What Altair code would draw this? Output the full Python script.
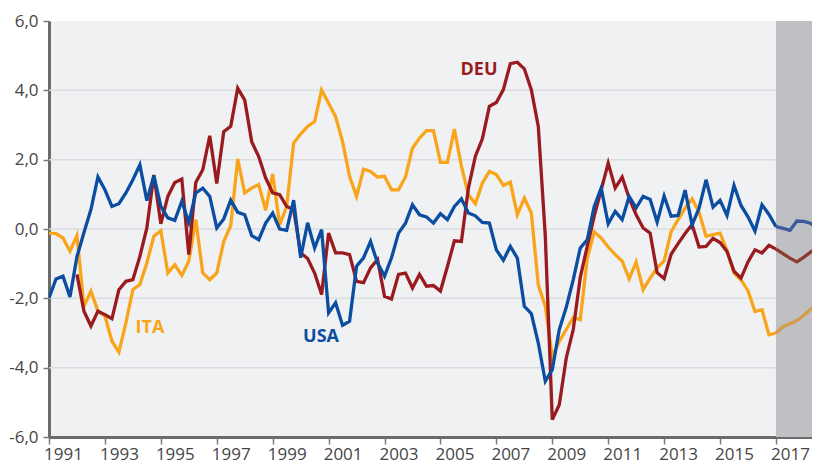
import altair as alt
import pandas as pd

# ---------------- data (quarterly) ----------------
YEAR0 = 1991.0            # first quarter of USA / ITA series
DEU_START = 1992.0        # first quarter of DEU series
FORECAST_START = 2017.0   # start of shaded forecast period
X_END = 2018.289          # right edge of the visible period

usa = [-1.99, -1.44, -1.36, -1.96, -0.80, -0.10, 0.56, 1.50, 1.13, 0.65,
       0.73, 1.04, 1.42, 1.85, 0.82, 1.54, 0.65, 0.32, 0.25, 0.80,
       0.19, 1.04, 1.18, 0.94, 0.03, 0.29, 0.83, 0.48, 0.41, -0.19,
       -0.31, 0.17, 0.46, 0.00, -0.04, 0.83, -0.83, 0.18, -0.55, -0.02,
       -2.42, -2.13, -2.78, -2.66, -1.07, -0.83, -0.36, -0.98, -1.36, -0.83,
       -0.12, 0.17, 0.70, 0.41, 0.35, 0.17, 0.44, 0.27, 0.65, 0.87,
       0.46, 0.38, 0.19, 0.17, -0.60, -0.90, -0.50, -0.84, -2.23, -2.44,
       -3.29, -4.39, -4.06, -2.90, -2.26, -1.46, -0.55, -0.31, 0.65, 1.18,
       0.15, 0.51, 0.27, 0.94, 0.61, 0.94, 0.85, 0.20, 0.95, 0.37,
       0.39, 1.12, 0.12, 0.60, 1.42, 0.63, 0.83, 0.39, 1.26, 0.68,
       0.35, -0.06, 0.70, 0.42, 0.07, 0.02, -0.04, 0.23, 0.22, 0.16,
       0.00]

ita = [-0.12, -0.13, -0.26, -0.64, -0.19, -2.23, -1.79, -2.37, -2.51, -3.23,
       -3.55, -2.71, -1.75, -1.60, -0.98, -0.21, -0.05, -1.27, -1.03, -1.34,
       -0.93, 0.27, -1.27, -1.46, -1.27, -0.36, 0.10, 2.02, 1.04, 1.18,
       1.28, 0.54, 1.59, 0.12, 0.65, 2.48, 2.74, 2.96, 3.10, 4.01,
       3.63, 3.24, 2.52, 1.52, 0.94, 1.73, 1.66, 1.50, 1.52, 1.13,
       1.13, 1.50, 2.33, 2.62, 2.84, 2.84, 1.92, 1.92, 2.88, 1.81,
       0.99, 0.73, 1.33, 1.66, 1.57, 1.26, 1.35, 0.41, 0.89, 0.46,
       -1.61, -2.23, -3.70, -3.24, -2.90, -2.55, -2.62, -0.85, -0.08, -0.26,
       -0.52, -0.74, -0.93, -1.44, -0.95, -1.75, -1.42, -1.12, -0.92, -0.08,
       0.27, 0.60, 0.87, 0.48, -0.21, -0.16, -0.12, -0.62, -1.27, -1.47,
       -1.78, -2.38, -2.33, -3.05, -3.00, -2.82, -2.73, -2.64, -2.49, -2.31,
       -2.22]

deu = [-1.31, -2.37, -2.80, -2.37, -2.47, -2.59, -1.75, -1.51, -1.46, -0.79,
       0.03, 1.56, 0.15, 0.94, 1.34, 1.44, -0.74, 1.34, 1.71, 2.69,
       1.31, 2.81, 2.96, 4.06, 3.72, 2.52, 2.09, 1.47, 1.04, 0.99,
       0.65, 0.56, -0.69, -0.85, -1.27, -1.89, -0.12, -0.69, -0.69, -0.74,
       -1.51, -1.55, -1.12, -0.88, -1.94, -2.02, -1.31, -1.27, -1.70, -1.31,
       -1.65, -1.63, -1.79, -1.08, -0.34, -0.36, 1.18, 2.10, 2.60, 3.54,
       3.65, 4.02, 4.77, 4.81, 4.62, 4.02, 2.96, -0.20, -5.50, -5.07,
       -3.72, -2.90, -1.40, -0.50, 0.37, 1.13, 1.90, 1.18, 1.50, 0.89,
       0.41, 0.03, -0.12, -1.26, -1.43, -0.73, -0.42, -0.13, 0.13, -0.52,
       -0.50, -0.27, -0.39, -0.65, -1.22, -1.42, -0.95, -0.60, -0.69, -0.47,
       -0.58, -0.71, -0.84, -0.95, -0.81, -0.66, -0.52]

x_tick_years = list(range(1991, 2018, 2))
y_ticks = [-6, -4, -2, 0, 2, 4, 6]
grid_values = [-4, -2, 0, 2, 4]

label_names = ["DEU", "ITA", "USA"]
label_years = [2006.38, 1994.61, 2000.73]
label_values = [4.59, -2.86, -3.12]

series_domain = ["DEU", "DEU Prognose", "ITA", "ITA Prognose", "USA", "USA Prognose"]
series_colors = ["#9a1b1f", "#8a3b2d", "#f9a51b", "#d29c4c", "#0b4da1", "#3d5a9b"]

# ---------------- tables ----------------
rows = []
for name, start, vals in [("ITA", YEAR0, ita), ("DEU", DEU_START, deu), ("USA", YEAR0, usa)]:
    for i, v in enumerate(vals):
        yr = start + i / 4
        if yr <= FORECAST_START + 1e-9:
            rows.append({"year": yr, "value": v, "series": name, "country": name})
        if yr >= FORECAST_START - 1e-9:
            rows.append({"year": yr, "value": v, "series": name + " Prognose", "country": name})
df = pd.DataFrame(rows)

shade_df = pd.DataFrame({"start": [FORECAST_START], "end": [X_END], "lo": [-6], "hi": [6]})
grid_df = pd.DataFrame({"v": grid_values})
labels_df = pd.DataFrame({"year": label_years, "value": label_values, "series": label_names})

FONT = "Open Sans"
x_scale = alt.Scale(domain=[YEAR0, X_END], nice=False, zero=False)
y_scale = alt.Scale(domain=[-6, 6], nice=False, zero=False)
color_scale = alt.Scale(domain=series_domain, range=series_colors)

x_axis = alt.Axis(values=x_tick_years, format="d", labelOffset=14, tickSize=7,
                  tickColor="#7a7a7a", tickWidth=1.5, domainColor="#6b6b6b",
                  domainWidth=3, labelFont=FONT, labelFontSize=17,
                  labelColor="#454545", labelPadding=2, grid=False, title=None,
                  labelFlush=False, labelOverlap=False)
y_axis = alt.Axis(values=y_ticks,
                  labelExpr="(datum.value < 0 ? '-' : '') + replace(format(abs(datum.value), '.1f'), '.', ',')",
                  tickSize=6, tickColor="#7a7a7a", tickWidth=1.5,
                  domainColor="#6b6b6b", domainWidth=3, labelFont=FONT,
                  labelFontSize=17, labelColor="#454545", labelPadding=5,
                  grid=False, title=None)

grid = alt.Chart(grid_df).mark_rule(color="#dcdde0", strokeWidth=1.5).encode(
    y=alt.Y("v:Q", scale=y_scale, axis=y_axis)
)

shade = alt.Chart(shade_df).mark_rect(color="#bfc0c4", clip=True).encode(
    x=alt.X("start:Q", scale=x_scale, axis=x_axis),
    x2="end:Q",
    y=alt.Y("lo:Q", scale=y_scale),
    y2="hi:Q",
)

line_layers = []
for c in ["ITA", "DEU", "USA"]:
    line_layers.append(
        alt.Chart(df).transform_filter(alt.datum.country == c).mark_line(
            strokeWidth=3.3, clip=True
        ).encode(
            x=alt.X("year:Q", scale=x_scale),
            y=alt.Y("value:Q", scale=y_scale),
            color=alt.Color("series:N", scale=color_scale, legend=None),
            detail="series:N",
            order="year:Q",
        )
    )

labels = alt.Chart(labels_df).mark_text(
    font=FONT, fontSize=18, fontWeight="bold", align="center", baseline="middle"
).encode(
    x=alt.X("year:Q", scale=x_scale),
    y=alt.Y("value:Q", scale=y_scale),
    text="series:N",
    color=alt.Color("series:N", scale=color_scale, legend=None),
)

chart = alt.layer(grid, shade, *line_layers, labels).properties(
    width=763,
    height=416,
    autosize=alt.AutoSizeParams(type="none"),
    padding={"left": 41, "top": 13, "right": 0, "bottom": 27},
).configure_view(fill="#f0f1f3", strokeWidth=0)

chart.save("out.html", embed_options={"renderer": "svg", "actions": False})
